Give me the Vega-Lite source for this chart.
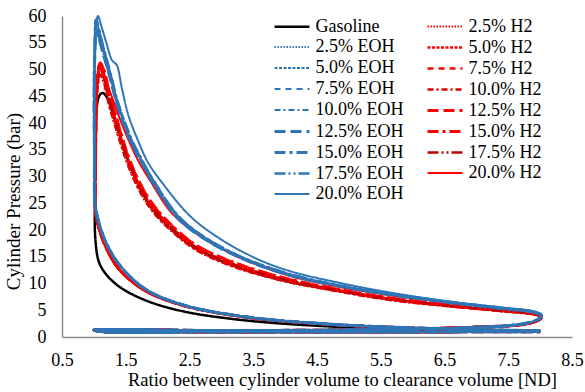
{
"$schema":"https://vega.github.io/schema/vega-lite/v6.json",
"width":510,"height":321,
"autosize":{"type":"none"},
"padding":{"left":62,"top":16,"right":13,"bottom":55},
"background":"white",
"config":{"view":{"stroke":null},"font":"Liberation Serif",
"axis":{"labelFont":"Liberation Serif","titleFont":"Liberation Serif","labelFontSize":18,"titleFontSize":18.5,"titleFontWeight":"normal","labelColor":"#000","titleColor":"#000","grid":false,"ticks":false,"tickSize":0,"domainColor":"#8c8c8c","domainWidth":1.5,"labelFlush":false,"labelOverlap":false},
"legend":{"orient":"none","legendX":211,"legendY":-1,"columns":2,"padding":0,"rowPadding":-1.5,"columnPadding":17,"labelFont":"Liberation Serif","labelFontSize":18,"labelColor":"#000","symbolType":"M-1.75,0H1.75","symbolSize":400,"symbolOffset":7.5,"labelOffset":12,"labelLimit":200}},
"datasets":{"names":[
{"c":"G","s":"Gasoline"},{"c":"E1","s":"2.5% EOH"},{"c":"E2","s":"5.0% EOH"},{"c":"E3","s":"7.5% EOH"},{"c":"E4","s":"10.0% EOH"},{"c":"E5","s":"12.5% EOH"},{"c":"E6","s":"15.0% EOH"},{"c":"E7","s":"17.5% EOH"},{"c":"E8","s":"20.0% EOH"},
{"c":"H1","s":"2.5% H2"},{"c":"H2","s":"5.0% H2"},{"c":"H3","s":"7.5% H2"},{"c":"H4","s":"10.0% H2"},{"c":"H5","s":"12.5% H2"},{"c":"H6","s":"15.0% H2"},{"c":"H7","s":"17.5% H2"},{"c":"H8","s":"20.0% H2"}]},
"data":{"values":[
{"c":"G","x":8,"y":1.0},{"c":"G","x":6,"y":1.45},{"c":"G","x":4.5,"y":2.1},{"c":"G","x":3.3,"y":3.2},{"c":"G","x":2.4,"y":4.8},{"c":"G","x":1.8,"y":6.9},{"c":"G","x":1.4,"y":9.4},{"c":"G","x":1.2,"y":11.6},{"c":"G","x":1.08,"y":14.0},{"c":"G","x":1.025,"y":18.0},
{"c":"G","x":1.015,"y":26},{"c":"G","x":1.02,"y":36},{"c":"G","x":1.04,"y":42.5},{"c":"G","x":1.09,"y":45.2},{"c":"G","x":1.14,"y":45.6},{"c":"G","x":1.22,"y":44.5},{"c":"G","x":1.32,"y":41.0},{"c":"G","x":1.53,"y":33.3},{"c":"G","x":1.7,"y":28.4},{"c":"G","x":1.9,"y":24.3},{"c":"G","x":2.2,"y":20.3},{"c":"G","x":2.6,"y":16.6},{"c":"G","x":3.2,"y":13.3},{"c":"G","x":4.0,"y":10.5},{"c":"G","x":4.75,"y":8.8},{"c":"G","x":5.65,"y":7.1},{"c":"G","x":6.6,"y":5.8},{"c":"G","x":7.4,"y":4.9},{"c":"G","x":7.9,"y":4.3},{"c":"G","x":8.02,"y":3.7},
{"c":"G","x":7.95,"y":3.0},{"c":"G","x":7.7,"y":2.3},{"c":"G","x":7.0,"y":1.85},{"c":"G","x":5.5,"y":1.4},{"c":"G","x":3.0,"y":1.2},{"c":"G","x":1.0,"y":1.3},{"c":"G","x":1.1,"y":1.02},{"c":"G","x":3.0,"y":0.95},{"c":"G","x":6.0,"y":0.95},{"c":"G","x":8.0,"y":0.98},

{"c":"H1","x":8,"y":1.12},{"c":"H1","x":6,"y":1.67},{"c":"H1","x":4.5,"y":2.5},{"c":"H1","x":3.3,"y":3.85},{"c":"H1","x":2.4,"y":5.9},{"c":"H1","x":1.8,"y":8.7},{"c":"H1","x":1.4,"y":12.6},{"c":"H1","x":1.2,"y":16.5},{"c":"H1","x":1.08,"y":20.3},{"c":"H1","x":1.025,"y":23.5},
{"c":"H1","x":1.025,"y":29},{"c":"H1","x":1.035,"y":40},{"c":"H1","x":1.06,"y":46.8},{"c":"H1","x":1.1,"y":49.0},{"c":"H1","x":1.16,"y":47.4},{"c":"H1","x":1.24,"y":43.3},{"c":"H1","x":1.34,"y":39.2},{"c":"H1","x":1.53,"y":32.3},{"c":"H1","x":1.7,"y":27.7},{"c":"H1","x":1.9,"y":23.8},{"c":"H1","x":2.2,"y":20.0},{"c":"H1","x":2.6,"y":16.3},{"c":"H1","x":3.2,"y":13.1},{"c":"H1","x":4.0,"y":10.4},{"c":"H1","x":4.75,"y":8.7},{"c":"H1","x":5.65,"y":6.9},{"c":"H1","x":6.6,"y":5.7},{"c":"H1","x":7.4,"y":4.8},{"c":"H1","x":7.9,"y":4.2},{"c":"H1","x":8.02,"y":3.6},
{"c":"H1","x":7.95,"y":3.0},{"c":"H1","x":7.7,"y":2.3},{"c":"H1","x":7.0,"y":1.85},{"c":"H1","x":5.5,"y":1.4},{"c":"H1","x":3.0,"y":1.2},{"c":"H1","x":1.0,"y":1.3},{"c":"H1","x":1.1,"y":1.02},{"c":"H1","x":3.0,"y":0.95},{"c":"H1","x":6.0,"y":0.95},{"c":"H1","x":8.0,"y":0.98},

{"c":"H2","x":8,"y":1.12},{"c":"H2","x":6,"y":1.67},{"c":"H2","x":4.5,"y":2.5},{"c":"H2","x":3.3,"y":3.85},{"c":"H2","x":2.4,"y":5.9},{"c":"H2","x":1.8,"y":8.7},{"c":"H2","x":1.4,"y":12.6},{"c":"H2","x":1.2,"y":16.5},{"c":"H2","x":1.08,"y":20.3},{"c":"H2","x":1.025,"y":23.5},
{"c":"H2","x":1.025,"y":30},{"c":"H2","x":1.035,"y":41},{"c":"H2","x":1.06,"y":48},{"c":"H2","x":1.1,"y":50.2},{"c":"H2","x":1.16,"y":48.6},{"c":"H2","x":1.24,"y":44.6},{"c":"H2","x":1.34,"y":40.4},{"c":"H2","x":1.53,"y":33.3},{"c":"H2","x":1.7,"y":28.6},{"c":"H2","x":1.9,"y":24.6},{"c":"H2","x":2.2,"y":20.6},{"c":"H2","x":2.6,"y":16.8},{"c":"H2","x":3.2,"y":13.5},{"c":"H2","x":4.0,"y":10.7},{"c":"H2","x":4.75,"y":8.9},{"c":"H2","x":5.65,"y":7.1},{"c":"H2","x":6.6,"y":5.8},{"c":"H2","x":7.4,"y":4.9},{"c":"H2","x":7.9,"y":4.3},{"c":"H2","x":8.02,"y":3.7},
{"c":"H2","x":7.95,"y":3.0},{"c":"H2","x":7.7,"y":2.3},{"c":"H2","x":7.0,"y":1.85},{"c":"H2","x":5.5,"y":1.4},{"c":"H2","x":3.0,"y":1.2},{"c":"H2","x":1.0,"y":1.3},{"c":"H2","x":1.1,"y":1.02},{"c":"H2","x":3.0,"y":0.95},{"c":"H2","x":6.0,"y":0.95},{"c":"H2","x":8.0,"y":0.98},

{"c":"H3","x":8,"y":1.12},{"c":"H3","x":6,"y":1.67},{"c":"H3","x":4.5,"y":2.5},{"c":"H3","x":3.3,"y":3.85},{"c":"H3","x":2.4,"y":5.9},{"c":"H3","x":1.8,"y":8.7},{"c":"H3","x":1.4,"y":12.6},{"c":"H3","x":1.2,"y":16.5},{"c":"H3","x":1.08,"y":20.3},{"c":"H3","x":1.025,"y":23.5},
{"c":"H3","x":1.025,"y":30},{"c":"H3","x":1.035,"y":42},{"c":"H3","x":1.06,"y":49.2},{"c":"H3","x":1.1,"y":51.2},{"c":"H3","x":1.16,"y":49.8},{"c":"H3","x":1.24,"y":45.8},{"c":"H3","x":1.34,"y":41.5},{"c":"H3","x":1.53,"y":34.1},{"c":"H3","x":1.7,"y":29.3},{"c":"H3","x":1.9,"y":25.2},{"c":"H3","x":2.2,"y":21.1},{"c":"H3","x":2.6,"y":17.2},{"c":"H3","x":3.2,"y":13.9},{"c":"H3","x":4.0,"y":11.0},{"c":"H3","x":4.75,"y":9.1},{"c":"H3","x":5.65,"y":7.3},{"c":"H3","x":6.6,"y":6.0},{"c":"H3","x":7.4,"y":5.0},{"c":"H3","x":7.9,"y":4.4},{"c":"H3","x":8.02,"y":3.7},
{"c":"H3","x":7.95,"y":3.0},{"c":"H3","x":7.7,"y":2.3},{"c":"H3","x":7.0,"y":1.85},{"c":"H3","x":5.5,"y":1.4},{"c":"H3","x":3.0,"y":1.2},{"c":"H3","x":1.0,"y":1.3},{"c":"H3","x":1.1,"y":1.02},{"c":"H3","x":3.0,"y":0.95},{"c":"H3","x":6.0,"y":0.95},{"c":"H3","x":8.0,"y":0.98},

{"c":"H4","x":8,"y":1.12},{"c":"H4","x":6,"y":1.67},{"c":"H4","x":4.5,"y":2.5},{"c":"H4","x":3.3,"y":3.85},{"c":"H4","x":2.4,"y":5.9},{"c":"H4","x":1.8,"y":8.7},{"c":"H4","x":1.4,"y":12.6},{"c":"H4","x":1.2,"y":16.5},{"c":"H4","x":1.08,"y":20.3},{"c":"H4","x":1.025,"y":23.5},
{"c":"H4","x":1.025,"y":29},{"c":"H4","x":1.035,"y":40},{"c":"H4","x":1.06,"y":46.8},{"c":"H4","x":1.1,"y":49.0},{"c":"H4","x":1.16,"y":47.4},{"c":"H4","x":1.24,"y":43.3},{"c":"H4","x":1.34,"y":39.2},{"c":"H4","x":1.53,"y":32.3},{"c":"H4","x":1.7,"y":27.7},{"c":"H4","x":1.9,"y":23.8},{"c":"H4","x":2.2,"y":20.0},{"c":"H4","x":2.6,"y":16.3},{"c":"H4","x":3.2,"y":13.1},{"c":"H4","x":4.0,"y":10.4},{"c":"H4","x":4.75,"y":8.7},{"c":"H4","x":5.65,"y":6.9},{"c":"H4","x":6.6,"y":5.7},{"c":"H4","x":7.4,"y":4.8},{"c":"H4","x":7.9,"y":4.2},{"c":"H4","x":8.02,"y":3.6},
{"c":"H4","x":7.95,"y":3.0},{"c":"H4","x":7.7,"y":2.3},{"c":"H4","x":7.0,"y":1.85},{"c":"H4","x":5.5,"y":1.4},{"c":"H4","x":3.0,"y":1.2},{"c":"H4","x":1.0,"y":1.3},{"c":"H4","x":1.1,"y":1.02},{"c":"H4","x":3.0,"y":0.95},{"c":"H4","x":6.0,"y":0.95},{"c":"H4","x":8.0,"y":0.98},

{"c":"H5","x":8,"y":1.12},{"c":"H5","x":6,"y":1.67},{"c":"H5","x":4.5,"y":2.5},{"c":"H5","x":3.3,"y":3.85},{"c":"H5","x":2.4,"y":5.9},{"c":"H5","x":1.8,"y":8.7},{"c":"H5","x":1.4,"y":12.6},{"c":"H5","x":1.2,"y":16.5},{"c":"H5","x":1.08,"y":20.3},{"c":"H5","x":1.025,"y":23.5},
{"c":"H5","x":1.025,"y":30},{"c":"H5","x":1.035,"y":41},{"c":"H5","x":1.06,"y":48},{"c":"H5","x":1.1,"y":50.2},{"c":"H5","x":1.16,"y":48.6},{"c":"H5","x":1.24,"y":44.6},{"c":"H5","x":1.34,"y":40.4},{"c":"H5","x":1.53,"y":33.3},{"c":"H5","x":1.7,"y":28.6},{"c":"H5","x":1.9,"y":24.6},{"c":"H5","x":2.2,"y":20.6},{"c":"H5","x":2.6,"y":16.8},{"c":"H5","x":3.2,"y":13.5},{"c":"H5","x":4.0,"y":10.7},{"c":"H5","x":4.75,"y":8.9},{"c":"H5","x":5.65,"y":7.1},{"c":"H5","x":6.6,"y":5.8},{"c":"H5","x":7.4,"y":4.9},{"c":"H5","x":7.9,"y":4.3},{"c":"H5","x":8.02,"y":3.7},
{"c":"H5","x":7.95,"y":3.0},{"c":"H5","x":7.7,"y":2.3},{"c":"H5","x":7.0,"y":1.85},{"c":"H5","x":5.5,"y":1.4},{"c":"H5","x":3.0,"y":1.2},{"c":"H5","x":1.0,"y":1.3},{"c":"H5","x":1.1,"y":1.02},{"c":"H5","x":3.0,"y":0.95},{"c":"H5","x":6.0,"y":0.95},{"c":"H5","x":8.0,"y":0.98},

{"c":"H6","x":8,"y":1.12},{"c":"H6","x":6,"y":1.67},{"c":"H6","x":4.5,"y":2.5},{"c":"H6","x":3.3,"y":3.85},{"c":"H6","x":2.4,"y":5.9},{"c":"H6","x":1.8,"y":8.7},{"c":"H6","x":1.4,"y":12.6},{"c":"H6","x":1.2,"y":16.5},{"c":"H6","x":1.08,"y":20.3},{"c":"H6","x":1.025,"y":23.5},
{"c":"H6","x":1.025,"y":30},{"c":"H6","x":1.035,"y":42},{"c":"H6","x":1.06,"y":49.2},{"c":"H6","x":1.1,"y":51.2},{"c":"H6","x":1.16,"y":49.8},{"c":"H6","x":1.24,"y":45.8},{"c":"H6","x":1.34,"y":41.5},{"c":"H6","x":1.53,"y":34.1},{"c":"H6","x":1.7,"y":29.3},{"c":"H6","x":1.9,"y":25.2},{"c":"H6","x":2.2,"y":21.1},{"c":"H6","x":2.6,"y":17.2},{"c":"H6","x":3.2,"y":13.9},{"c":"H6","x":4.0,"y":11.0},{"c":"H6","x":4.75,"y":9.1},{"c":"H6","x":5.65,"y":7.3},{"c":"H6","x":6.6,"y":6.0},{"c":"H6","x":7.4,"y":5.0},{"c":"H6","x":7.9,"y":4.4},{"c":"H6","x":8.02,"y":3.7},
{"c":"H6","x":7.95,"y":3.0},{"c":"H6","x":7.7,"y":2.3},{"c":"H6","x":7.0,"y":1.85},{"c":"H6","x":5.5,"y":1.4},{"c":"H6","x":3.0,"y":1.2},{"c":"H6","x":1.0,"y":1.3},{"c":"H6","x":1.1,"y":1.02},{"c":"H6","x":3.0,"y":0.95},{"c":"H6","x":6.0,"y":0.95},{"c":"H6","x":8.0,"y":0.98},

{"c":"H7","x":8,"y":1.12},{"c":"H7","x":6,"y":1.67},{"c":"H7","x":4.5,"y":2.5},{"c":"H7","x":3.3,"y":3.85},{"c":"H7","x":2.4,"y":5.9},{"c":"H7","x":1.8,"y":8.7},{"c":"H7","x":1.4,"y":12.6},{"c":"H7","x":1.2,"y":16.5},{"c":"H7","x":1.08,"y":20.3},{"c":"H7","x":1.025,"y":23.5},
{"c":"H7","x":1.025,"y":30},{"c":"H7","x":1.035,"y":41},{"c":"H7","x":1.06,"y":48},{"c":"H7","x":1.1,"y":50.2},{"c":"H7","x":1.16,"y":48.6},{"c":"H7","x":1.24,"y":44.6},{"c":"H7","x":1.34,"y":40.4},{"c":"H7","x":1.53,"y":33.3},{"c":"H7","x":1.7,"y":28.6},{"c":"H7","x":1.9,"y":24.6},{"c":"H7","x":2.2,"y":20.6},{"c":"H7","x":2.6,"y":16.8},{"c":"H7","x":3.2,"y":13.5},{"c":"H7","x":4.0,"y":10.7},{"c":"H7","x":4.75,"y":8.9},{"c":"H7","x":5.65,"y":7.1},{"c":"H7","x":6.6,"y":5.8},{"c":"H7","x":7.4,"y":4.9},{"c":"H7","x":7.9,"y":4.3},{"c":"H7","x":8.02,"y":3.7},
{"c":"H7","x":7.95,"y":3.0},{"c":"H7","x":7.7,"y":2.3},{"c":"H7","x":7.0,"y":1.85},{"c":"H7","x":5.5,"y":1.4},{"c":"H7","x":3.0,"y":1.2},{"c":"H7","x":1.0,"y":1.3},{"c":"H7","x":1.1,"y":1.02},{"c":"H7","x":3.0,"y":0.95},{"c":"H7","x":6.0,"y":0.95},{"c":"H7","x":8.0,"y":0.98},

{"c":"H8","x":8,"y":1.12},{"c":"H8","x":6,"y":1.67},{"c":"H8","x":4.5,"y":2.5},{"c":"H8","x":3.3,"y":3.85},{"c":"H8","x":2.4,"y":5.9},{"c":"H8","x":1.8,"y":8.7},{"c":"H8","x":1.4,"y":12.6},{"c":"H8","x":1.2,"y":16.5},{"c":"H8","x":1.08,"y":20.3},{"c":"H8","x":1.025,"y":23.5},
{"c":"H8","x":1.025,"y":30},{"c":"H8","x":1.035,"y":42},{"c":"H8","x":1.06,"y":49.5},{"c":"H8","x":1.08,"y":50.8},{"c":"H8","x":1.13,"y":50.2},{"c":"H8","x":1.2,"y":47.6},{"c":"H8","x":1.3,"y":44.3},{"c":"H8","x":1.45,"y":39.5},{"c":"H8","x":1.69,"y":33.1},{"c":"H8","x":1.88,"y":29.3},{"c":"H8","x":2.22,"y":23.2},{"c":"H8","x":2.6,"y":19.4},{"c":"H8","x":3.2,"y":15.3},{"c":"H8","x":4.0,"y":11.7},{"c":"H8","x":4.75,"y":9.6},{"c":"H8","x":5.65,"y":7.8},{"c":"H8","x":6.6,"y":6.4},{"c":"H8","x":7.4,"y":5.3},{"c":"H8","x":7.9,"y":4.6},{"c":"H8","x":8.02,"y":3.8},
{"c":"H8","x":7.95,"y":3.0},{"c":"H8","x":7.7,"y":2.3},{"c":"H8","x":7.0,"y":1.85},{"c":"H8","x":5.5,"y":1.4},{"c":"H8","x":3.0,"y":1.2},{"c":"H8","x":1.0,"y":1.3},{"c":"H8","x":1.1,"y":1.02},{"c":"H8","x":3.0,"y":0.95},{"c":"H8","x":6.0,"y":0.95},{"c":"H8","x":8.0,"y":0.98},

{"c":"E1","x":8,"y":1.15},{"c":"E1","x":6,"y":1.7},{"c":"E1","x":4.5,"y":2.55},{"c":"E1","x":3.3,"y":3.9},{"c":"E1","x":2.4,"y":6.0},{"c":"E1","x":1.8,"y":9.0},{"c":"E1","x":1.4,"y":13.5},{"c":"E1","x":1.2,"y":17.4},{"c":"E1","x":1.08,"y":21.3},{"c":"E1","x":1.02,"y":24.8},
{"c":"E1","x":1.01,"y":34},{"c":"E1","x":1.005,"y":46},{"c":"E1","x":1.015,"y":53},{"c":"E1","x":1.035,"y":57.5},{"c":"E1","x":1.07,"y":56.2},{"c":"E1","x":1.14,"y":53.2},{"c":"E1","x":1.25,"y":48.6},{"c":"E1","x":1.36,"y":43.6},{"c":"E1","x":1.44,"y":40.8},{"c":"E1","x":1.6,"y":36.0},{"c":"E1","x":1.75,"y":32.6},{"c":"E1","x":1.93,"y":28.8},{"c":"E1","x":2.32,"y":22.2},{"c":"E1","x":2.7,"y":18.6},{"c":"E1","x":3.3,"y":14.8},{"c":"E1","x":4.08,"y":11.5},{"c":"E1","x":4.9,"y":9.4},{"c":"E1","x":5.65,"y":7.9},{"c":"E1","x":6.6,"y":6.4},{"c":"E1","x":7.4,"y":5.3},{"c":"E1","x":7.9,"y":4.6},{"c":"E1","x":8.02,"y":3.9},
{"c":"E1","x":7.95,"y":3.2},{"c":"E1","x":7.7,"y":2.4},{"c":"E1","x":7.0,"y":1.8},{"c":"E1","x":5.5,"y":1.4},{"c":"E1","x":3.0,"y":1.2},{"c":"E1","x":1.0,"y":1.3},{"c":"E1","x":1.1,"y":1.02},{"c":"E1","x":3.0,"y":0.95},{"c":"E1","x":6.0,"y":0.95},{"c":"E1","x":8.0,"y":0.98},

{"c":"E2","x":8,"y":1.15},{"c":"E2","x":6,"y":1.7},{"c":"E2","x":4.5,"y":2.55},{"c":"E2","x":3.3,"y":3.9},{"c":"E2","x":2.4,"y":6.0},{"c":"E2","x":1.8,"y":9.0},{"c":"E2","x":1.4,"y":13.5},{"c":"E2","x":1.2,"y":17.4},{"c":"E2","x":1.08,"y":21.3},{"c":"E2","x":1.02,"y":24.8},
{"c":"E2","x":1.01,"y":34},{"c":"E2","x":1.005,"y":46},{"c":"E2","x":1.015,"y":54},{"c":"E2","x":1.035,"y":59.3},{"c":"E2","x":1.07,"y":57.8},{"c":"E2","x":1.14,"y":54.4},{"c":"E2","x":1.25,"y":49.6},{"c":"E2","x":1.36,"y":44.4},{"c":"E2","x":1.44,"y":41.5},{"c":"E2","x":1.6,"y":36.6},{"c":"E2","x":1.75,"y":33.1},{"c":"E2","x":1.93,"y":29.3},{"c":"E2","x":2.32,"y":22.6},{"c":"E2","x":2.7,"y":18.9},{"c":"E2","x":3.3,"y":15.0},{"c":"E2","x":4.08,"y":11.7},{"c":"E2","x":4.9,"y":9.5},{"c":"E2","x":5.65,"y":8.0},{"c":"E2","x":6.6,"y":6.5},{"c":"E2","x":7.4,"y":5.4},{"c":"E2","x":7.9,"y":4.7},{"c":"E2","x":8.02,"y":4.0},
{"c":"E2","x":7.95,"y":3.2},{"c":"E2","x":7.7,"y":2.4},{"c":"E2","x":7.0,"y":1.8},{"c":"E2","x":5.5,"y":1.4},{"c":"E2","x":3.0,"y":1.2},{"c":"E2","x":1.0,"y":1.3},{"c":"E2","x":1.1,"y":1.02},{"c":"E2","x":3.0,"y":0.95},{"c":"E2","x":6.0,"y":0.95},{"c":"E2","x":8.0,"y":0.98},

{"c":"E3","x":8,"y":1.15},{"c":"E3","x":6,"y":1.7},{"c":"E3","x":4.5,"y":2.55},{"c":"E3","x":3.3,"y":3.9},{"c":"E3","x":2.4,"y":6.0},{"c":"E3","x":1.8,"y":9.0},{"c":"E3","x":1.4,"y":13.5},{"c":"E3","x":1.2,"y":17.4},{"c":"E3","x":1.08,"y":21.3},{"c":"E3","x":1.02,"y":24.8},
{"c":"E3","x":1.01,"y":34},{"c":"E3","x":1.005,"y":46},{"c":"E3","x":1.015,"y":53},{"c":"E3","x":1.035,"y":57.5},{"c":"E3","x":1.07,"y":56.2},{"c":"E3","x":1.14,"y":53.2},{"c":"E3","x":1.25,"y":48.6},{"c":"E3","x":1.36,"y":43.6},{"c":"E3","x":1.44,"y":40.8},{"c":"E3","x":1.6,"y":36.0},{"c":"E3","x":1.75,"y":32.6},{"c":"E3","x":1.93,"y":28.8},{"c":"E3","x":2.32,"y":22.2},{"c":"E3","x":2.7,"y":18.6},{"c":"E3","x":3.3,"y":14.8},{"c":"E3","x":4.08,"y":11.5},{"c":"E3","x":4.9,"y":9.4},{"c":"E3","x":5.65,"y":7.9},{"c":"E3","x":6.6,"y":6.4},{"c":"E3","x":7.4,"y":5.3},{"c":"E3","x":7.9,"y":4.6},{"c":"E3","x":8.02,"y":3.9},
{"c":"E3","x":7.95,"y":3.2},{"c":"E3","x":7.7,"y":2.4},{"c":"E3","x":7.0,"y":1.8},{"c":"E3","x":5.5,"y":1.4},{"c":"E3","x":3.0,"y":1.2},{"c":"E3","x":1.0,"y":1.3},{"c":"E3","x":1.1,"y":1.02},{"c":"E3","x":3.0,"y":0.95},{"c":"E3","x":6.0,"y":0.95},{"c":"E3","x":8.0,"y":0.98},

{"c":"E4","x":8,"y":1.15},{"c":"E4","x":6,"y":1.7},{"c":"E4","x":4.5,"y":2.55},{"c":"E4","x":3.3,"y":3.9},{"c":"E4","x":2.4,"y":6.0},{"c":"E4","x":1.8,"y":9.0},{"c":"E4","x":1.4,"y":13.5},{"c":"E4","x":1.2,"y":17.4},{"c":"E4","x":1.08,"y":21.3},{"c":"E4","x":1.02,"y":24.8},
{"c":"E4","x":1.01,"y":34},{"c":"E4","x":1.005,"y":46},{"c":"E4","x":1.015,"y":54},{"c":"E4","x":1.035,"y":59.3},{"c":"E4","x":1.07,"y":57.8},{"c":"E4","x":1.14,"y":54.4},{"c":"E4","x":1.25,"y":49.6},{"c":"E4","x":1.36,"y":44.4},{"c":"E4","x":1.44,"y":41.5},{"c":"E4","x":1.6,"y":36.6},{"c":"E4","x":1.75,"y":33.1},{"c":"E4","x":1.93,"y":29.3},{"c":"E4","x":2.32,"y":22.6},{"c":"E4","x":2.7,"y":18.9},{"c":"E4","x":3.3,"y":15.0},{"c":"E4","x":4.08,"y":11.7},{"c":"E4","x":4.9,"y":9.5},{"c":"E4","x":5.65,"y":8.0},{"c":"E4","x":6.6,"y":6.5},{"c":"E4","x":7.4,"y":5.4},{"c":"E4","x":7.9,"y":4.7},{"c":"E4","x":8.02,"y":4.0},
{"c":"E4","x":7.95,"y":3.2},{"c":"E4","x":7.7,"y":2.4},{"c":"E4","x":7.0,"y":1.8},{"c":"E4","x":5.5,"y":1.4},{"c":"E4","x":3.0,"y":1.2},{"c":"E4","x":1.0,"y":1.3},{"c":"E4","x":1.1,"y":1.02},{"c":"E4","x":3.0,"y":0.95},{"c":"E4","x":6.0,"y":0.95},{"c":"E4","x":8.0,"y":0.98},

{"c":"E5","x":8,"y":1.15},{"c":"E5","x":6,"y":1.7},{"c":"E5","x":4.5,"y":2.55},{"c":"E5","x":3.3,"y":3.9},{"c":"E5","x":2.4,"y":6.0},{"c":"E5","x":1.8,"y":9.0},{"c":"E5","x":1.4,"y":13.5},{"c":"E5","x":1.2,"y":17.4},{"c":"E5","x":1.08,"y":21.3},{"c":"E5","x":1.02,"y":24.8},
{"c":"E5","x":1.01,"y":34},{"c":"E5","x":1.005,"y":46},{"c":"E5","x":1.015,"y":53},{"c":"E5","x":1.035,"y":57.5},{"c":"E5","x":1.07,"y":56.2},{"c":"E5","x":1.14,"y":53.2},{"c":"E5","x":1.25,"y":48.6},{"c":"E5","x":1.36,"y":43.6},{"c":"E5","x":1.44,"y":40.8},{"c":"E5","x":1.6,"y":36.0},{"c":"E5","x":1.75,"y":32.6},{"c":"E5","x":1.93,"y":28.8},{"c":"E5","x":2.32,"y":22.2},{"c":"E5","x":2.7,"y":18.6},{"c":"E5","x":3.3,"y":14.8},{"c":"E5","x":4.08,"y":11.5},{"c":"E5","x":4.9,"y":9.4},{"c":"E5","x":5.65,"y":7.9},{"c":"E5","x":6.6,"y":6.4},{"c":"E5","x":7.4,"y":5.3},{"c":"E5","x":7.9,"y":4.6},{"c":"E5","x":8.02,"y":3.9},
{"c":"E5","x":7.95,"y":3.2},{"c":"E5","x":7.7,"y":2.4},{"c":"E5","x":7.0,"y":1.8},{"c":"E5","x":5.5,"y":1.4},{"c":"E5","x":3.0,"y":1.2},{"c":"E5","x":1.0,"y":1.3},{"c":"E5","x":1.1,"y":1.02},{"c":"E5","x":3.0,"y":0.95},{"c":"E5","x":6.0,"y":0.95},{"c":"E5","x":8.0,"y":0.98},

{"c":"E6","x":8,"y":1.15},{"c":"E6","x":6,"y":1.7},{"c":"E6","x":4.5,"y":2.55},{"c":"E6","x":3.3,"y":3.9},{"c":"E6","x":2.4,"y":6.0},{"c":"E6","x":1.8,"y":9.0},{"c":"E6","x":1.4,"y":13.5},{"c":"E6","x":1.2,"y":17.4},{"c":"E6","x":1.08,"y":21.3},{"c":"E6","x":1.02,"y":24.8},
{"c":"E6","x":1.01,"y":34},{"c":"E6","x":1.005,"y":46},{"c":"E6","x":1.015,"y":54},{"c":"E6","x":1.035,"y":59.3},{"c":"E6","x":1.07,"y":57.8},{"c":"E6","x":1.14,"y":54.4},{"c":"E6","x":1.25,"y":49.6},{"c":"E6","x":1.36,"y":44.4},{"c":"E6","x":1.44,"y":41.5},{"c":"E6","x":1.6,"y":36.6},{"c":"E6","x":1.75,"y":33.1},{"c":"E6","x":1.93,"y":29.3},{"c":"E6","x":2.32,"y":22.6},{"c":"E6","x":2.7,"y":18.9},{"c":"E6","x":3.3,"y":15.0},{"c":"E6","x":4.08,"y":11.7},{"c":"E6","x":4.9,"y":9.5},{"c":"E6","x":5.65,"y":8.0},{"c":"E6","x":6.6,"y":6.5},{"c":"E6","x":7.4,"y":5.4},{"c":"E6","x":7.9,"y":4.7},{"c":"E6","x":8.02,"y":4.0},
{"c":"E6","x":7.95,"y":3.2},{"c":"E6","x":7.7,"y":2.4},{"c":"E6","x":7.0,"y":1.8},{"c":"E6","x":5.5,"y":1.4},{"c":"E6","x":3.0,"y":1.2},{"c":"E6","x":1.0,"y":1.3},{"c":"E6","x":1.1,"y":1.02},{"c":"E6","x":3.0,"y":0.95},{"c":"E6","x":6.0,"y":0.95},{"c":"E6","x":8.0,"y":0.98},

{"c":"E7","x":8,"y":1.15},{"c":"E7","x":6,"y":1.7},{"c":"E7","x":4.5,"y":2.55},{"c":"E7","x":3.3,"y":3.9},{"c":"E7","x":2.4,"y":6.0},{"c":"E7","x":1.8,"y":9.0},{"c":"E7","x":1.4,"y":13.5},{"c":"E7","x":1.2,"y":17.4},{"c":"E7","x":1.08,"y":21.3},{"c":"E7","x":1.02,"y":24.8},
{"c":"E7","x":1.01,"y":34},{"c":"E7","x":1.005,"y":46},{"c":"E7","x":1.015,"y":54},{"c":"E7","x":1.035,"y":59.3},{"c":"E7","x":1.07,"y":57.8},{"c":"E7","x":1.14,"y":54.4},{"c":"E7","x":1.25,"y":49.6},{"c":"E7","x":1.36,"y":44.4},{"c":"E7","x":1.44,"y":41.5},{"c":"E7","x":1.6,"y":36.6},{"c":"E7","x":1.75,"y":33.1},{"c":"E7","x":1.93,"y":29.3},{"c":"E7","x":2.32,"y":22.6},{"c":"E7","x":2.7,"y":18.9},{"c":"E7","x":3.3,"y":15.0},{"c":"E7","x":4.08,"y":11.7},{"c":"E7","x":4.9,"y":9.5},{"c":"E7","x":5.65,"y":8.0},{"c":"E7","x":6.6,"y":6.5},{"c":"E7","x":7.4,"y":5.4},{"c":"E7","x":7.9,"y":4.7},{"c":"E7","x":8.02,"y":4.0},
{"c":"E7","x":7.95,"y":3.2},{"c":"E7","x":7.7,"y":2.4},{"c":"E7","x":7.0,"y":1.8},{"c":"E7","x":5.5,"y":1.4},{"c":"E7","x":3.0,"y":1.2},{"c":"E7","x":1.0,"y":1.3},{"c":"E7","x":1.1,"y":1.02},{"c":"E7","x":3.0,"y":0.95},{"c":"E7","x":6.0,"y":0.95},{"c":"E7","x":8.0,"y":0.98},

{"c":"E8","x":8,"y":1.15},{"c":"E8","x":6,"y":1.7},{"c":"E8","x":4.5,"y":2.55},{"c":"E8","x":3.3,"y":3.9},{"c":"E8","x":2.4,"y":6.0},{"c":"E8","x":1.8,"y":9.0},{"c":"E8","x":1.4,"y":13.5},{"c":"E8","x":1.2,"y":17.4},{"c":"E8","x":1.08,"y":21.3},{"c":"E8","x":1.02,"y":24.8},
{"c":"E8","x":1.01,"y":34},{"c":"E8","x":1.01,"y":46},{"c":"E8","x":1.025,"y":55},{"c":"E8","x":1.05,"y":59.5},{"c":"E8","x":1.065,"y":60},{"c":"E8","x":1.12,"y":58},{"c":"E8","x":1.2,"y":54.8},{"c":"E8","x":1.28,"y":51.8},{"c":"E8","x":1.31,"y":51.4},{"c":"E8","x":1.36,"y":50.8},{"c":"E8","x":1.44,"y":46.5},{"c":"E8","x":1.54,"y":41.5},{"c":"E8","x":1.7,"y":36.5},{"c":"E8","x":1.85,"y":32.6},{"c":"E8","x":2.06,"y":29.0},{"c":"E8","x":2.51,"y":22.6},{"c":"E8","x":3.0,"y":18.2},{"c":"E8","x":3.56,"y":14.6},{"c":"E8","x":4.08,"y":12.3},{"c":"E8","x":4.9,"y":10.0},{"c":"E8","x":5.65,"y":8.3},{"c":"E8","x":6.6,"y":6.6},{"c":"E8","x":7.5,"y":5.4},{"c":"E8","x":7.9,"y":4.8},{"c":"E8","x":8.03,"y":4.1},
{"c":"E8","x":7.95,"y":3.2},{"c":"E8","x":7.7,"y":2.4},{"c":"E8","x":7.0,"y":1.8},{"c":"E8","x":5.5,"y":1.4},{"c":"E8","x":3.0,"y":1.2},{"c":"E8","x":1.0,"y":1.3},{"c":"E8","x":1.1,"y":1.02},{"c":"E8","x":3.0,"y":0.95},{"c":"E8","x":6.0,"y":0.95},{"c":"E8","x":8.0,"y":0.98}
]},
"transform":[{"lookup":"c","from":{"data":{"name":"names"},"key":"c","fields":["s"]}}],
"mark":{"type":"line","interpolate":"catmull-rom","strokeCap":"butt","strokeJoin":"round"},
"encoding":{
"x":{"field":"x","type":"quantitative","title":"Ratio between cylinder volume to clearance volume [ND]","scale":{"domain":[0.5,8.5],"nice":false,"zero":false},
 "axis":{"values":[0.5,1.5,2.5,3.5,4.5,5.5,6.5,7.5,8.5],"format":".1f","labelPadding":14,"titleX":280,"titleY":48,"titleAlign":"center","titleBaseline":"alphabetic"}},
"y":{"field":"y","type":"quantitative","title":"Cylinder Pressure (bar)","scale":{"domain":[0,60],"nice":false},
 "axis":{"values":[0,5,10,15,20,25,30,35,40,45,50,55,60],"format":"d","labelPadding":16,"titleX":-43,"titleY":185,"titleAlign":"center","titleBaseline":"alphabetic","titleAngle":270,"titleFontSize":19}},
"color":{"field":"s","type":"nominal","title":null,
 "scale":{"domain":["Gasoline","2.5% EOH","5.0% EOH","7.5% EOH","10.0% EOH","12.5% EOH","15.0% EOH","17.5% EOH","20.0% EOH","2.5% H2","5.0% H2","7.5% H2","10.0% H2","12.5% H2","15.0% H2","17.5% H2","20.0% H2"],
 "range":["#000000","#2e75b6","#2e75b6","#2e75b6","#2e75b6","#2e75b6","#2e75b6","#2e75b6","#2e75b6","#ff0000","#ff0000","#ff0000","#e00000","#ff0000","#ff0000","#c00000","#ff0000"]}},
"strokeDash":{"field":"s","type":"nominal","title":null,
 "scale":{"domain":["Gasoline","2.5% EOH","5.0% EOH","7.5% EOH","10.0% EOH","12.5% EOH","15.0% EOH","17.5% EOH","20.0% EOH","2.5% H2","5.0% H2","7.5% H2","10.0% H2","12.5% H2","15.0% H2","17.5% H2","20.0% H2"],
 "range":[[1,0],[1.5,1.5],[3,1.5],[6,5],[6,3,2,3],[11,5],[11,4,3,4],[11,3,2,3,2,3],[1,0],[1.5,1.5],[3,1.5],[6,5],[6,3,2,3],[11,5],[11,4,3,4],[11,3,2,3,2,3],[1,0]]}},
"strokeWidth":{"field":"s","type":"nominal","title":null,
 "scale":{"type":"ordinal","domain":["Gasoline","2.5% EOH","5.0% EOH","7.5% EOH","10.0% EOH","12.5% EOH","15.0% EOH","17.5% EOH","20.0% EOH","2.5% H2","5.0% H2","7.5% H2","10.0% H2","12.5% H2","15.0% H2","17.5% H2","20.0% H2"],
 "range":[2.5,2,2,2,2,3,3,2.5,2,2,2.5,2.5,2.5,3,3,2.5,2]}},
"order":{"value":null}
}
}
